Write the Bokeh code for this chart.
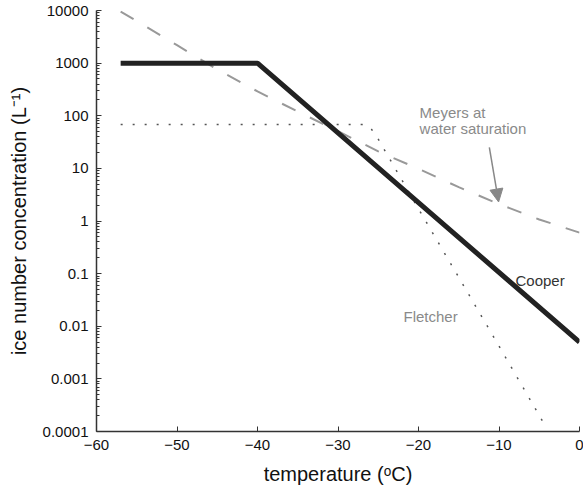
from bokeh.plotting import figure
from bokeh.models import Range1d, FixedTicker, Label, Arrow, NormalHead
from bokeh.embed import file_html
from bokeh.resources import INLINE

# Ice number concentration (per litre) against temperature (deg C)
cooper_temp = [-57, -40, 0]
cooper_n = [1000, 1000, 0.005]

meyers_temp = [-57, -55, -50, -45, -40, -35, -30, -25, -20, -15, -10, -5, 0]
meyers_n = [9550, 6300, 2190, 760, 290, 120, 51, 21, 9.8, 4.4, 2.1, 1.07, 0.60]

fletcher_temp = [-57, -27, -26, -25, -20, -15, -10, -4.4]
fletcher_n = [68, 68, 60, 36, 1.7, 0.085, 0.0042, 0.00014]

x_ticks = [-60, -50, -40, -30, -20, -10, 0]
x_tick_labels = ["\u221260", "\u221250", "\u221240", "\u221230", "\u221220", "\u221210", "0"]
y_ticks = [1e-4, 1e-3, 1e-2, 1e-1, 1, 10, 100, 1000, 10000]
y_tick_labels = ["0.0001", "0.001", "0.01", "0.1", "1", "10", "100", "1000", "10000"]

FONT = "Liberation Sans"

p = figure(
    width=583, height=494,
    y_axis_type="log",
    x_range=Range1d(-60, 0), y_range=Range1d(1e-4, 1e4),
    output_backend="svg", toolbar_location=None,
    min_border_left=96, min_border_right=4, min_border_top=10, min_border_bottom=63,
)
p.outline_line_color = None
p.grid.visible = False
p.background_fill_color = "white"
p.border_fill_color = "white"

# log-decade minor ticks for the y axis
minor = [m * d for d in y_ticks[:-1] for m in range(2, 10)]
p.yaxis.ticker = FixedTicker(ticks=y_ticks, minor_ticks=minor)
p.yaxis.major_label_overrides = {t: s for t, s in zip(y_ticks, y_tick_labels)}
p.xaxis.ticker = FixedTicker(ticks=x_ticks)
p.xaxis.major_label_overrides = {t: s for t, s in zip(x_ticks, x_tick_labels)}

for ax in (p.xaxis[0], p.yaxis[0]):
    ax.axis_line_color = "#333333"
    ax.axis_line_width = 1.5
    ax.major_tick_line_color = "#333333"
    ax.major_tick_in = 5
    ax.major_tick_out = 0
    ax.major_label_text_font = FONT
    ax.major_label_text_font_size = "15px"
    ax.major_label_text_color = "#111111"
    ax.axis_label_text_font = FONT
    ax.axis_label_text_font_size = "20px"
    ax.axis_label_text_font_style = "normal"
    ax.axis_label_text_color = "#111111"

p.yaxis.minor_tick_line_color = "#333333"
p.yaxis.minor_tick_in = 3
p.yaxis.minor_tick_out = 0
p.xaxis.minor_tick_line_color = None

p.xaxis.axis_label = "temperature (\u1d52C)"
p.yaxis.axis_label = "ice number concentration (L\u207b\u00b9)"
p.xaxis.major_label_standoff = 8
p.yaxis.major_label_standoff = 8
p.xaxis.axis_label_standoff = 10
p.yaxis.axis_label_standoff = 10

# curves
p.line(meyers_temp, meyers_n, line_color="#999999", line_width=2, line_dash="15 16")
p.line(fletcher_temp, fletcher_n, line_color="#555555", line_width=1.5, line_dash="2 10")
p.line(cooper_temp, cooper_n, line_color="#222222", line_width=5)

# annotations
p.add_layout(Arrow(
    end=NormalHead(size=13, fill_color="#888888", line_color="#888888"),
    x_start=-11.2, y_start=25, x_end=-10.05, y_end=2.3,
    line_color="#888888", line_width=1.5,
))
label_style = dict(text_font=FONT, text_font_size="15px", text_baseline="alphabetic", text_align="left")
p.add_layout(Label(x=-19.87, y=116, text="Meyers at", text_color="#8a8a8a", **label_style))
p.add_layout(Label(x=-19.87, y=57.5, text="water saturation", text_color="#8a8a8a", **label_style))
p.add_layout(Label(x=-7.95, y=0.0743, text="Cooper", text_color="#333333", **label_style))
p.add_layout(Label(x=-21.86, y=0.0155, text="Fletcher", text_color="#8a8a8a", **label_style))

open("out.html", "w").write(file_html(p, INLINE))
